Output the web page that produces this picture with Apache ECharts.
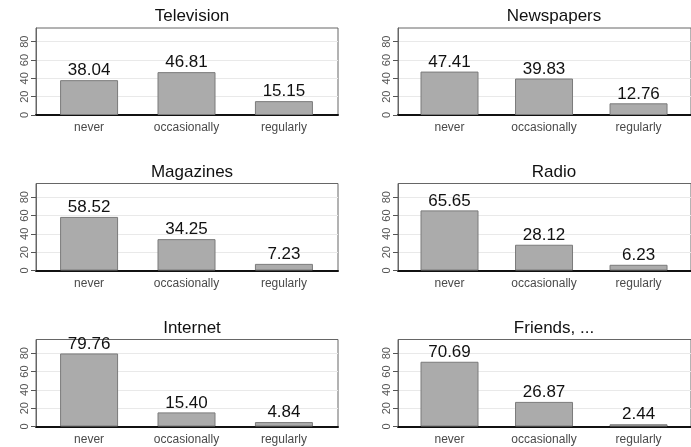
<!DOCTYPE html>
<html><head><meta charset="utf-8">
<script src="https://cdn.jsdelivr.net/npm/echarts@6/dist/echarts.min.js"></script>
<style>html,body{margin:0;padding:0;background:#fff}#c{width:691px;height:447px}</style>
</head><body><div id="c"></div>
<script>
var categories = ['never', 'occasionally', 'regularly'];
var panelTitles = ['Television', 'Newspapers', 'Magazines', 'Radio', 'Internet', 'Friends, ...'];
var television = [38.04, 46.81, 15.15];
var newspapers = [47.41, 39.83, 12.76];
var magazines = [58.52, 34.25, 7.23];
var radio = [65.65, 28.12, 6.23];
var internet = [79.76, 15.40, 4.84];
var friends = [70.69, 26.87, 2.44];
var yTicks = [0, 20, 40, 60, 80];

var panelValues = [television, newspapers, magazines, radio, internet, friends];
var colLeft = [36, 398];
var rowTop = [28, 183.5, 339.5];
var gw = 302, gh = 87;

var grids = [], xAxes = [], yAxes = [], series = [], titles = [];
panelValues.forEach(function (vals, i) {
  var c = i % 2, r = Math.floor(i / 2);
  grids.push({left: colLeft[c], top: rowTop[r], width: gw, height: gh, show: true,
    borderColor: '#666', borderWidth: 1, backgroundColor: '#fff', containLabel: false});
  xAxes.push({type: 'value', gridIndex: i, min: -0.545, max: 2.555,
    axisLine: {show: true, onZero: false, lineStyle: {color: '#111', width: 2}},
    axisTick: {show: false},
    splitLine: {show: false},
    axisLabel: {customValues: [0, 1, 2], margin: 7, color: '#4a4a4a', fontSize: 12,
      fontFamily: 'Liberation Sans, Arial, sans-serif',
      formatter: function (v) { return categories[Math.round(v)]; }}
  });
  yAxes.push({type: 'value', gridIndex: i, min: 0, max: 95,
    axisLine: {show: true, onZero: false, lineStyle: {color: '#666', width: 1}},
    axisTick: {show: true, customValues: yTicks, length: 5, lineStyle: {color: '#555'}},
    axisLabel: {customValues: yTicks, rotate: 90, margin: 6, color: '#555', fontSize: 11,
      fontFamily: 'Liberation Sans, Arial, sans-serif'},
    splitLine: {show: true, lineStyle: {color: '#e9e9e9', width: 1}}
  });
  series.push({type: 'bar', xAxisIndex: i, yAxisIndex: i, barWidth: 58,
    data: vals.map(function (v, k) { return [k, v]; }),
    itemStyle: {color: '#ababab', borderColor: '#7a7a7a', borderWidth: 1},
    label: {show: true, position: 'top', distance: 1, color: '#111', fontSize: 17,
      fontFamily: 'Liberation Sans, Arial, sans-serif',
      formatter: function (p) { return p.value[1].toFixed(2); }},
    animation: false
  });
  titles.push({text: panelTitles[i], left: colLeft[c] + gw / 2, top: rowTop[r] - 25,
    textAlign: 'center',
    textStyle: {fontSize: 17, fontWeight: 'normal', color: '#111',
      fontFamily: 'Liberation Sans, Arial, sans-serif'}});
});

var chart = echarts.init(document.getElementById('c'), null, {renderer: 'canvas'});
chart.setOption({backgroundColor: '#fff', animation: false, title: titles,
  grid: grids, xAxis: xAxes, yAxis: yAxes, series: series});
</script></body></html>
